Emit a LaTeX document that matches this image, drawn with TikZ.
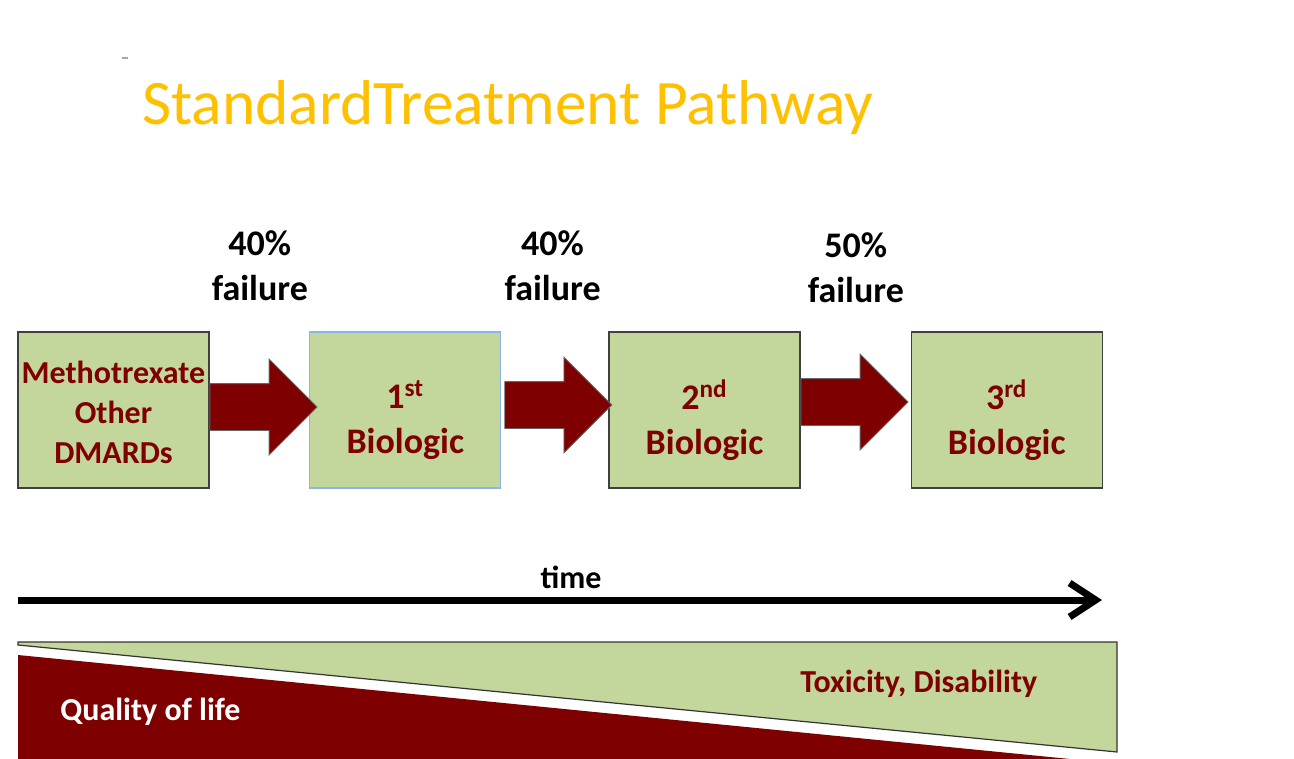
\documentclass[tikz,border=0pt]{standalone}
\usepackage{fontspec}
\setmainfont{Carlito}
\usetikzlibrary{positioning,calc,shapes.arrows,arrows.meta}
\definecolor{sagegreen}{HTML}{C3D69B}
\definecolor{darkmaroon}{HTML}{7F0000}
\definecolor{titlegold}{HTML}{FFC000}
\definecolor{paleblue}{HTML}{8DB4E2}
\begin{document}
\begin{tikzpicture}[x=0.5pt,y=-0.5pt,
  stagebox/.style={draw=black!75,line width=0.6pt,fill=sagegreen,minimum width=95.5pt,
    minimum height=78pt,inner sep=0pt},
  stagetext/.style={align=center,text=darkmaroon,inner sep=0pt},
  blockarrow/.style={single arrow,fill=darkmaroon,draw=black!60,line width=0.4pt,
    minimum width=47.5pt,single arrow head extend=12.25pt,single arrow tip angle=90,
    inner xsep=0pt,inner ysep=11.5pt,minimum height=53.5pt,anchor=tail},
  faillabel/.style={align=center,font=\fontsize{18}{22.5}\selectfont\bfseries},
  biofont/.style={font=\fontsize{18}{22.5}\selectfont\bfseries}]
\useasboundingbox (0,0) rectangle (1294,759);

\draw[black!35,line width=0.8pt] (122,58) -- (128,58);
\node[anchor=base west,inner sep=0pt,text=titlegold,font=\fontsize{31.7}{36}\selectfont] (title) at (142,125) {StandardTreatment Pathway};

\node[stagebox] (b0) at (113.5,410) {};
\node[stagebox,draw=paleblue,right=49.8pt of b0] (b1) {};
\node[stagebox,right=53.5pt of b1] (b2) {};
\node[stagebox,right=55pt of b2] (b3) {};
\node[stagetext,font=\fontsize{16}{20}\selectfont\bfseries] (b0t) at ([yshift=-1pt]b0.center) {Methotrexate\\Other\\DMARDs};
\node[stagetext,biofont] (b1t) at ([yshift=-5pt]b1.center) {1\textsuperscript{st}\\Biologic};
\node[stagetext,biofont] (b2t) at ([yshift=-5pt]b2.center) {2\textsuperscript{nd}\\Biologic};
\node[stagetext,biofont] (b3t) at ([yshift=-5pt]b3.center) {3\textsuperscript{rd}\\Biologic};

\node[blockarrow] (a1) at ($(b0.east)+(0,-3)$) {};
\node[blockarrow] (a2) at ($(b1.east)+(3,-5)$) {};
\node[blockarrow] (a3) at ($(b2.east)+(0,-8)$) {};

\node[faillabel] (f1) at ($(a1 |- 0,266)+(8,0)$) {40\%\\failure};
\node[faillabel] (f2) at ($(a2 |- 0,266)+(6,0)$) {40\%\\failure};
\node[faillabel] (f3) at ($(a3 |- 0,268)+(13,0)$) {50\%\\failure};

\coordinate (t0) at (18,600);
\coordinate (t1) at (1102,600);
\draw[line width=3.5pt,-{Straight Barb[length=13pt,width=17pt]}] (t0) -- (t1);
\node[anchor=base,font=\fontsize{16}{20}\selectfont\bfseries] (tlabel) at (571,588) {time};

\filldraw[fill=sagegreen,draw=black!80,line width=0.6pt] (18,642) -- (1117,642) -- (1117,752) -- (18,645) -- cycle;
\fill[darkmaroon] (18,655) -- (1070,759) -- (18,759) -- cycle;
\node[anchor=base west,inner sep=0pt,text=white,font=\fontsize{16}{20}\selectfont\bfseries] (qol) at (60,720) {Quality of life};
\node[anchor=base west,inner sep=0pt,text=darkmaroon,font=\fontsize{16}{20}\selectfont\bfseries] (tox) at (800,692) {Toxicity, Disability};
\end{tikzpicture}
\end{document}
